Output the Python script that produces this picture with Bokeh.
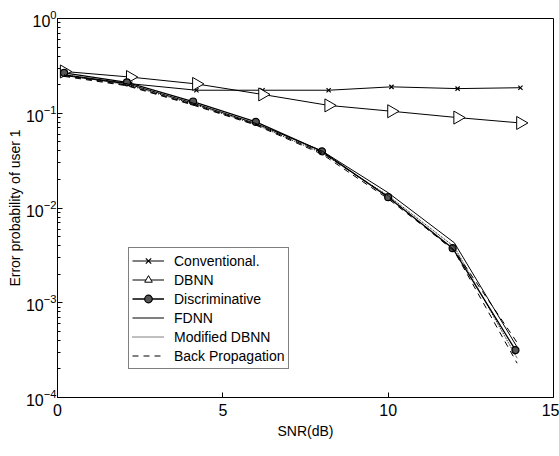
import numpy as np
from bokeh.plotting import figure
from bokeh.models import Legend, FixedTicker, ColumnDataSource
from bokeh.embed import file_html
from bokeh.resources import INLINE

# SNR values (dB)
snr_conv = [0.2, 2.2, 4.2, 6.2, 8.2, 10.1, 12.1, 14.0]
conventional = [0.255, 0.205, 0.175, 0.175, 0.175, 0.19, 0.182, 0.186]

snr_dbnn = [0.2, 2.2, 4.2, 6.2, 8.2, 10.1, 12.1, 14.0]
dbnn = [0.276, 0.241, 0.204, 0.158, 0.121, 0.105, 0.09, 0.079]

snr_disc = [0.2, 2.1, 4.1, 6.0, 8.0, 10.0, 11.95, 13.85]
discriminative = [0.267, 0.212, 0.133, 0.081, 0.0396, 0.013, 0.00377, 0.000316]

snr_other = [0.2, 2.1, 4.1, 6.0, 8.0, 10.0, 12.0, 13.9]
fdnn = [0.25, 0.205, 0.128, 0.078, 0.040, 0.0145, 0.0043, 0.00034]
modified_dbnn = [0.255, 0.2, 0.125, 0.076, 0.038, 0.0135, 0.0039, 0.00026]
back_prop = [0.245, 0.195, 0.122, 0.075, 0.037, 0.0125, 0.0036, 0.00038]
back_prop2 = [0.25, 0.198, 0.124, 0.0765, 0.0385, 0.0132, 0.0035, 0.00023]

x_ticks = [0, 5, 10, 15]

FONT = "Liberation Sans"

p = figure(width=559, height=456, output_backend="svg", toolbar_location=None,
           x_range=(0, 15), y_range=(1e-4, 1), y_axis_type="log",
           min_border_left=57, min_border_right=6, min_border_top=18, min_border_bottom=59)
p.background_fill_color = "white"
p.border_fill_color = "white"
p.grid.visible = False
p.outline_line_color = "black"
p.outline_line_width = 1

for ax in (p.xaxis[0], p.yaxis[0]):
    ax.axis_line_color = "black"
    ax.major_tick_in = 5
    ax.major_tick_out = 0
    ax.minor_tick_in = 3
    ax.minor_tick_out = 0
    ax.major_tick_line_color = "black"
    ax.minor_tick_line_color = "black"
    ax.major_label_text_font = FONT
    ax.major_label_text_font_size = "16px"
    ax.major_label_text_color = "black"
    ax.axis_label_text_font = FONT
    ax.axis_label_text_font_size = "14px"
    ax.axis_label_text_font_style = "normal"
    ax.axis_label_text_color = "black"

p.xaxis.ticker = FixedTicker(ticks=x_ticks, minor_ticks=[])
p.xaxis.axis_label = "SNR(dB)"
p.xaxis.axis_label_standoff = 4
p.xaxis.major_label_standoff = 6
p.yaxis.axis_label = "Error probability of user 1"
p.yaxis.axis_label_standoff = 0
p.yaxis.major_label_standoff = 1

dbnn_src = ColumnDataSource(dict(x=snr_dbnn, y=dbnn, a=[-np.pi / 2] * len(dbnn)))

r1 = p.line(snr_conv, conventional, line_color="black", line_width=1)
r1b = p.scatter(snr_conv, conventional, marker="x", size=6, line_color="black", line_width=1.2)
r2 = p.line(snr_dbnn, dbnn, line_color="black", line_width=1)
r2b = p.scatter("x", "y", source=dbnn_src, marker="triangle", angle="a", size=13,
                line_color="black", fill_color="white", line_width=1)
r3 = p.line(snr_disc, discriminative, line_color="black", line_width=1.3)
r3b = p.scatter(snr_disc, discriminative, marker="circle", size=7,
                line_color="black", fill_color="#555555", line_width=1.2)
r4 = p.line(snr_other, fdnn, line_color="black", line_width=1)
r5 = p.line(snr_other, modified_dbnn, line_color="black", line_width=1, line_dash="1 1")
r6 = p.line(snr_other, back_prop, line_color="black", line_width=1, line_dash="6 5")
p.line(snr_other, back_prop2, line_color="black", line_width=1, line_dash="6 5")

legend = Legend(items=[("Conventional.", [r1, r1b]), ("DBNN", [r2, r2b]),
                       ("Discriminative", [r3, r3b]), ("FDNN", [r4]),
                       ("Modified DBNN", [r5]), ("Back Propagation", [r6])],
                location=(71, 28))
legend.label_text_font = FONT
legend.label_text_font_size = "14px"
legend.label_text_color = "black"
legend.label_height = 19
legend.glyph_height = 19
legend.glyph_width = 32
legend.spacing = 0
legend.padding = 3
legend.margin = 0
legend.label_standoff = 10
legend.border_line_color = "black"
legend.border_line_width = 1
legend.background_fill_color = "white"
legend.background_fill_alpha = 1
p.add_layout(legend, "center")

open("out.html", "w").write(file_html(p, INLINE))
